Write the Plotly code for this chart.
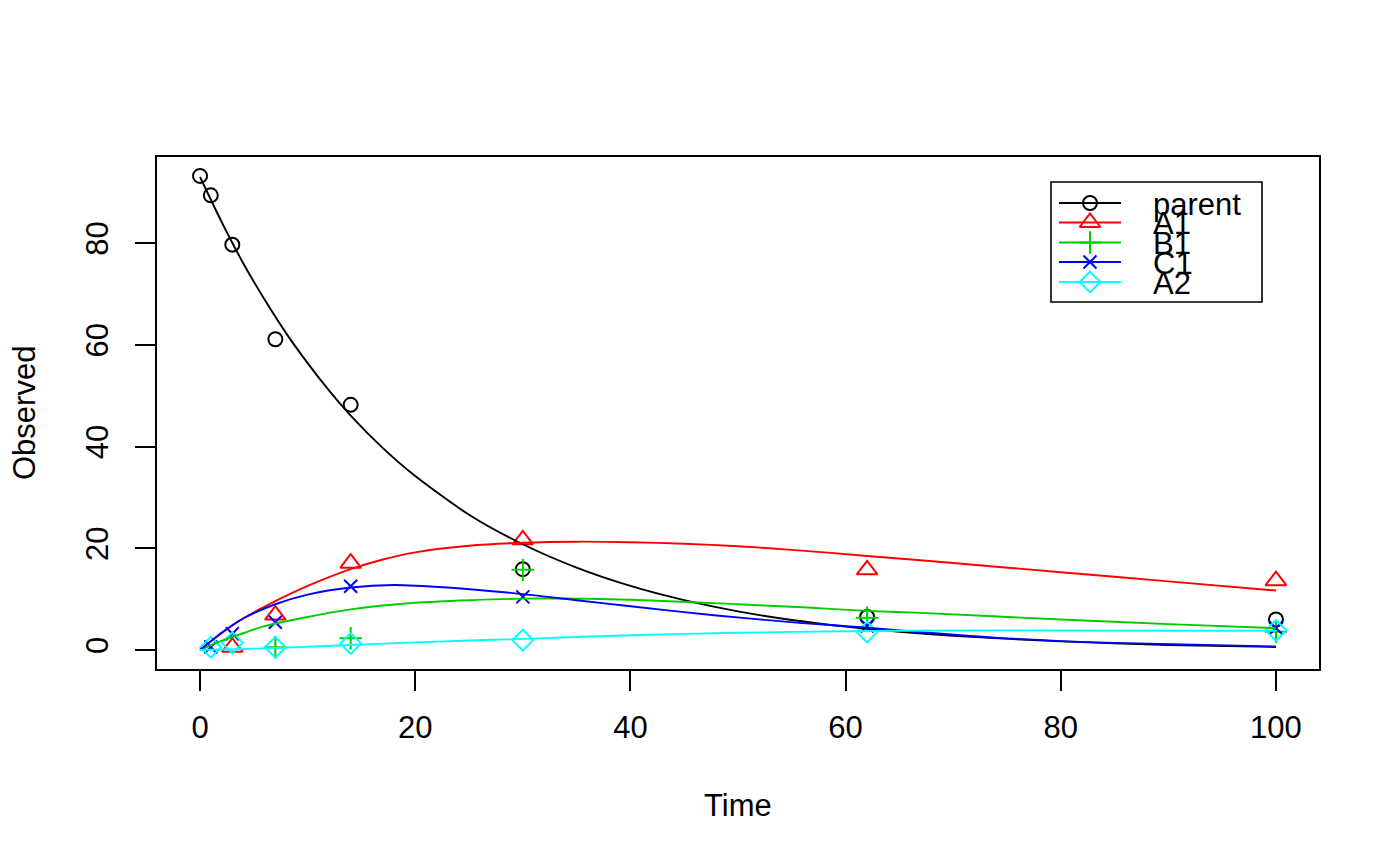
import plotly.graph_objects as go

# ---------------- data ----------------
time = [0, 1, 3, 7, 14, 30, 62, 100]
parent = [93.2, 89.4, 79.7, 61.1, 48.2, 15.9, 6.5, 6.0]
A1 = [None, None, 0.55, 6.87, 17.08, 21.66, 15.77, 13.63]
B1 = [None, None, None, 0.55, 2.31, 15.76, 6.36, 3.6]
C1 = [None, 0.6, 3.2, 5.46, 12.55, 10.45, 4.74, 4.33]
A2 = [None, 0.55, 1.41, 0.55, 1.29, 1.95, 3.54, 3.86]

# fitted curves
fit_parent_t = [0, 2, 4, 6, 8, 10, 12, 14, 17, 20, 25, 30, 35, 40, 45, 50, 55, 60, 65, 70, 80, 90, 100]
fit_parent = [93.0, 84.2, 76.1, 68.9, 62.3, 56.4, 51.0, 46.1, 39.7, 34.2, 26.6, 20.8, 16.2, 12.6,
              9.8, 7.6, 5.9, 4.6, 3.6, 2.8, 1.7, 1.0, 0.6]
fit_A1_t = [0, 2, 4, 7, 10, 14, 17, 20, 25, 30, 35, 40, 45, 50, 55, 62, 70, 80, 90, 100]
fit_A1 = [0, 3.3, 6.2, 9.6, 12.6, 15.9, 17.8, 19.2, 20.5, 21.1, 21.3, 21.2, 20.9, 20.4,
          19.7, 18.5, 17.1, 15.3, 13.5, 11.7]
fit_B1_t = [0, 2, 4, 6, 10, 14, 20, 25, 30, 40, 50, 56, 62, 67, 80, 90, 100]
fit_B1 = [0, 1.8, 3.3, 4.7, 6.5, 8.0, 9.3, 9.8, 10.1, 9.9, 9.0, 8.4, 7.7, 7.3, 6.0, 5.1, 4.3]
fit_C1_t = [0, 2, 4, 7, 10, 14, 18, 23, 30, 35, 40, 48, 56, 62, 67, 75, 85, 100]
fit_C1 = [0, 3.4, 6.2, 9.0, 10.9, 12.3, 12.8, 12.3, 11.0, 9.8, 8.6, 6.8, 5.3, 4.4, 3.5, 2.3, 1.4, 0.7]
fit_A2_t = [0, 3, 7, 14, 20, 30, 40, 50, 60, 70, 80, 90, 100]
fit_A2 = [0, 0.15, 0.4, 1.0, 1.5, 2.2, 2.9, 3.4, 3.7, 3.85, 3.85, 3.8, 3.8]

names = ["parent", "A1", "B1", "C1", "A2"]
obs = [parent, A1, B1, C1, A2]
fits_t = [fit_parent_t, fit_A1_t, fit_B1_t, fit_C1_t, fit_A2_t]
fits = [fit_parent, fit_A1, fit_B1, fit_C1, fit_A2]
colors = ["#000000", "#FF0000", "#00CD00", "#0000FF", "#00FFFF"]
symbols = ["circle-open", "triangle-up-open", "cross-thin-open", "x-thin-open", "diamond-open"]
sizes = [14, 18, 16, 13, 16]

x_ticks = [0, 20, 40, 60, 80, 100]
y_ticks = [0, 20, 40, 60, 80]

FONT = "Liberation Sans, Arial, Helvetica, sans-serif"
FS = 31

# plot region in pixels
W, H = 1400, 866
L, R, T, B = 157, 1319, 157, 669

fig = go.Figure()

for n, o, c, s, sz in zip(names, obs, colors, symbols, sizes):
    fig.add_trace(go.Scatter(
        x=time, y=o, mode="markers", name=n, showlegend=False,
        marker=dict(symbol=s, size=sz, color=c, line=dict(width=2, color=c))))

for n, ft, f, c in zip(names, fits_t, fits, colors):
    fig.add_trace(go.Scatter(
        x=ft, y=f, mode="lines", name=n + " fit", showlegend=False,
        line=dict(color=c, width=1.9, shape="spline", smoothing=0.7)))

# ---- manual R-style legend (pixel positions converted to overlay axis fractions) ----
def fx(px):
    return (px - L) / (R - L)

def fy(py):
    return (B - py) / (B - T)

leg_rows = [203, 222.5, 242.5, 262, 282]
for n, c, s, sz, py in zip(names, colors, symbols, sizes, leg_rows):
    fig.add_trace(go.Scatter(
        x=[fx(1059), fx(1121)], y=[fy(py), fy(py)], xaxis="x2", yaxis="y2",
        mode="lines", showlegend=False, hoverinfo="skip",
        line=dict(color=c, width=1.9)))
    fig.add_trace(go.Scatter(
        x=[fx(1090)], y=[fy(py)], xaxis="x2", yaxis="y2",
        mode="markers", showlegend=False, hoverinfo="skip",
        marker=dict(symbol=s, size=sz, color=c, line=dict(width=2, color=c))))

shapes = [dict(type="rect", xref="paper", yref="paper",
               x0=fx(1051), x1=fx(1262), y0=fy(302), y1=fy(182),
               line=dict(color="black", width=1.6), fillcolor="rgba(0,0,0,0)")]

annotations = []
for n, py in zip(names, leg_rows):
    annotations.append(dict(text=n, xref="paper", yref="paper", x=fx(1151), y=fy(py + 1),
                            xanchor="left", yanchor="middle", showarrow=False,
                            font=dict(family=FONT, size=FS, color="black")))

annotations.append(dict(text="Time", xref="paper", yref="paper", x=0.5, y=fy(805),
                        xanchor="center", yanchor="middle", showarrow=False,
                        font=dict(family=FONT, size=FS, color="black")))
annotations.append(dict(text="Observed", xref="paper", yref="paper", x=fx(24), y=0.5,
                        xanchor="center", yanchor="middle", showarrow=False, textangle=-90,
                        font=dict(family=FONT, size=FS, color="black")))

fig.update_layout(
    width=W, height=H, autosize=False,
    margin=dict(l=L, r=W - R, t=T, b=H - B, pad=0),
    paper_bgcolor="white", plot_bgcolor="white",
    showlegend=False,
    font=dict(family=FONT, size=FS, color="black"),
    xaxis=dict(range=[-4, 104], tickvals=x_ticks, ticktext=[str(v) for v in x_ticks],
               ticks="outside", ticklen=20, tickwidth=1.6, tickcolor="black",
               showline=True, linecolor="black", linewidth=1.6, mirror=True,
               showgrid=False, zeroline=False, ticklabelstandoff=10,
               tickfont=dict(family=FONT, size=FS, color="black")),
    yaxis=dict(range=[-3.728, 96.928], tickvals=y_ticks, ticktext=[str(v) for v in y_ticks],
               ticks="outside", ticklen=20, tickwidth=1.6, tickcolor="black",
               showline=True, linecolor="black", linewidth=1.6, mirror=True,
               showgrid=False, zeroline=False, tickangle=-90, ticklabelstandoff=15,
               tickfont=dict(family=FONT, size=FS, color="black")),
    xaxis2=dict(range=[0, 1], overlaying="x", visible=False, fixedrange=True),
    yaxis2=dict(range=[0, 1], overlaying="y", visible=False, fixedrange=True),
    shapes=shapes, annotations=annotations,
)

fig.write_html("out.html")
